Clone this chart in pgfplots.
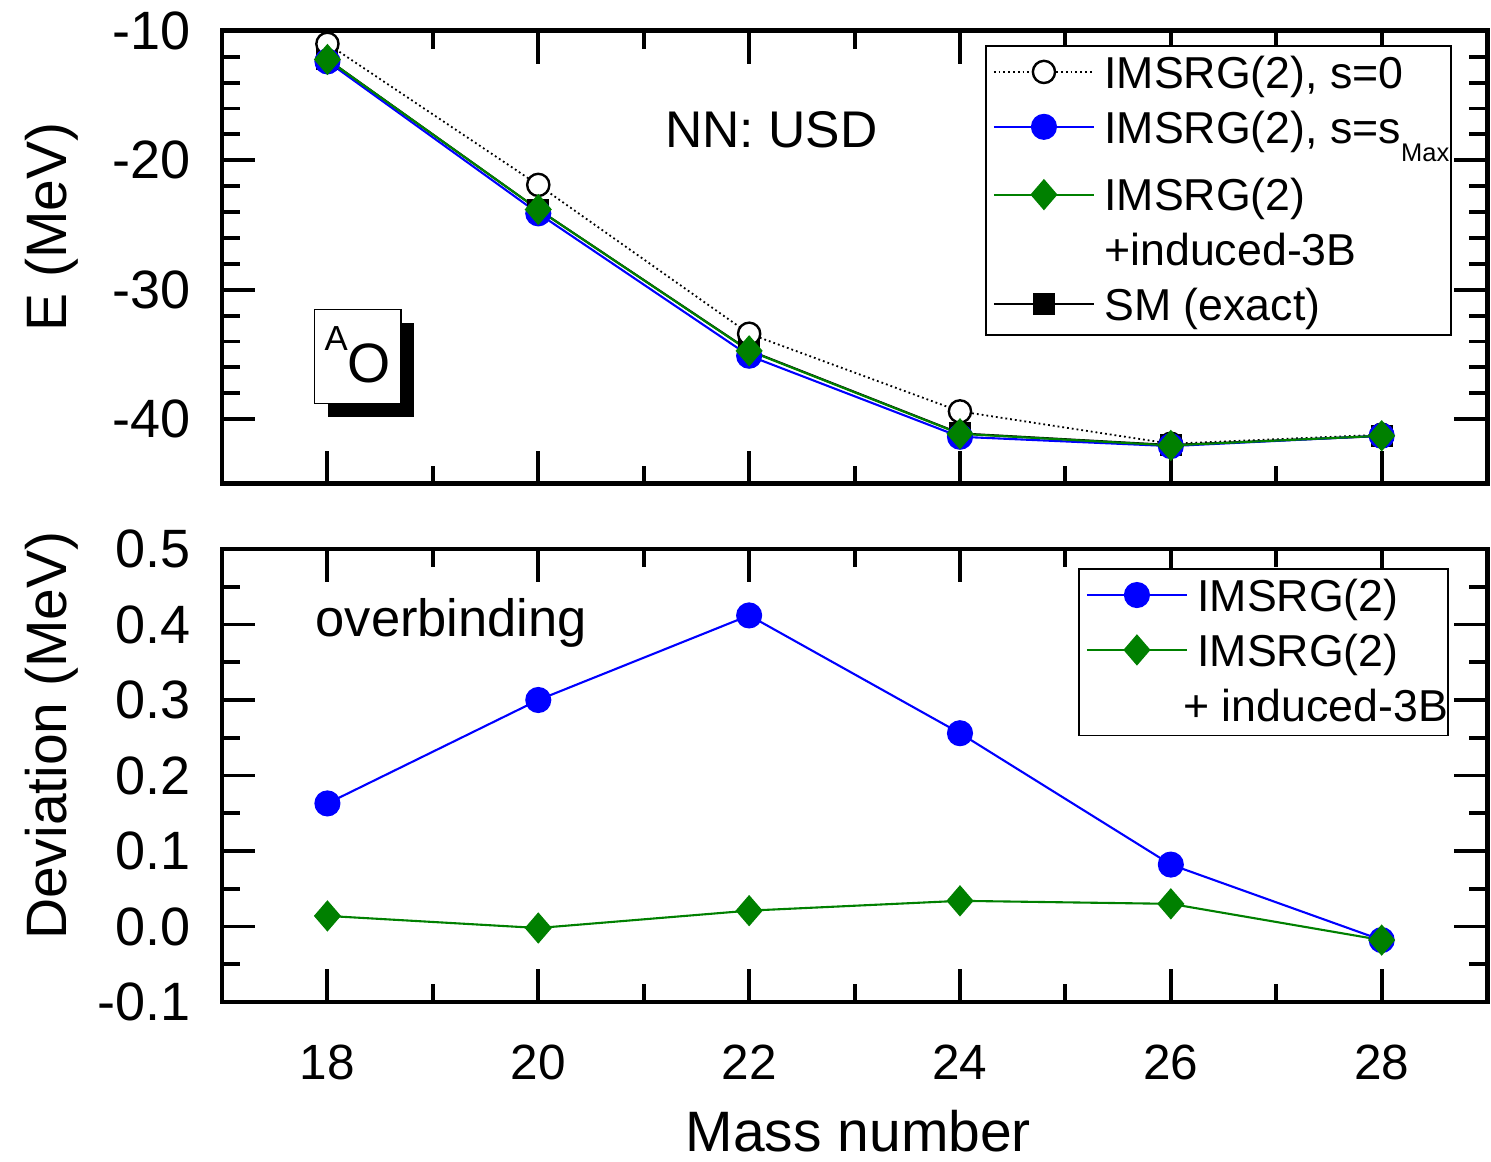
\documentclass[border=0pt]{standalone}
\usepackage{fontspec}
\setmainfont{Liberation Sans}
\usepackage{pgfplots}
\pgfplotsset{compat=1.18}
\definecolor{dgreen}{RGB}{0,128,0}
\newcommand\lstrut{\rule[-3.2pt]{0pt}{14pt}}
\pgfplotsset{
  myaxis/.style={
    scale only axis, width=421.7pt, height=151pt,
    xmin=17, xmax=29, xtick={18,20,...,28}, minor x tick num=1,
    tick align=inside, major tick length=11pt, minor tick length=6pt,
    axis line style={line width=1.6pt},
    tick style={line width=1.3pt, black},
    xtick pos=both, ytick pos=both,
    clip=false,
    /pgf/number format/assume math mode=true,
    yticklabel style={font=\fontsize{18}{20}\selectfont, xshift=-6.8pt},
    xticklabel style={font=\fontsize{16.5}{19}\selectfont, yshift=-10.8pt},
    legend image code/.code={%
      \draw[yshift=5.4pt,mark repeat=2,mark phase=2,##1] plot coordinates {(0pt,0pt) (16.7pt,0pt) (33.3pt,0pt)};
      \path (0pt,0pt) (36pt,0pt);},
    legend style={draw=black, line width=0.6pt, fill=white,
      font=\fontsize{14.9}{17}\selectfont,
      cells={anchor=base west}, inner sep=2.3pt,
      nodes={inner xsep=0.5pt, inner ysep=1pt}, row sep=4pt},
  },
  s0/.style={black, densely dotted, line width=0.6pt, mark=*, mark size=3.7pt,
    mark options={solid, fill=white, draw=black, line width=0.8pt}},
  bl/.style={blue, line width=0.7pt, mark=*, mark size=4pt,
    mark options={solid, fill=blue, draw=blue}},
  gr/.style={dgreen, line width=0.7pt, mark=diamond*, mark size=4.7pt,
    mark options={solid, fill=dgreen, draw=dgreen, xscale=1.15}},
  sm/.style={black, line width=0.7pt, mark=square*, mark size=3.3pt,
    mark options={solid, fill=black}},
}
\begin{document}
\begin{tikzpicture}
\path[use as bounding box] (-74pt,-53.3pt) rectangle (423pt,334pt);
% ---------------- top panel ----------------
\begin{axis}[myaxis, at={(0pt,172.7pt)}, anchor=south west,
  ymin=-45, ymax=-10, ytick={-10,-20,-30,-40}, minor y tick num=4,
  xticklabels={},
  ylabel={E (MeV)},
  ylabel style={at={(axis description cs:-0.1344,0.567)}, anchor=center, font=\fontsize{19}{22}\selectfont},
  legend style={at={(rel axis cs:0.9723,0.969)}, anchor=north east},
]
\addplot[sm, forget plot] coordinates {(18,-12.2) (20,-23.8) (22,-34.69) (24,-41.1) (26,-42.0) (28,-41.3)};
\addplot[s0, forget plot] coordinates {(18,-11.0) (20,-21.9) (22,-33.4) (24,-39.4) (26,-41.9) (28,-41.2)};
\addplot[bl, forget plot] coordinates {(18,-12.36) (20,-24.1) (22,-35.1) (24,-41.36) (26,-42.08) (28,-41.28)};
\addplot[gr, forget plot] coordinates {(18,-12.21) (20,-23.8) (22,-34.72) (24,-41.13) (26,-42.03) (28,-41.28)};
\addlegendimage{s0}\addlegendentry{\lstrut IMSRG(2), s=0}
\addlegendimage{bl}\addlegendentry{\rule[-11pt]{0pt}{21.8pt}IMSRG(2), s=s\raisebox{-6pt}{\fontsize{8.5}{10}\selectfont Max}\hspace*{-2.2pt}}
\addlegendimage{gr}\addlegendentry{\rule[-3.2pt]{0pt}{18.3pt}IMSRG(2)}
\addlegendimage{empty legend}\addlegendentry{\lstrut +induced-3B}
\addlegendimage{sm}\addlegendentry{\lstrut SM (exact)}
\node[anchor=base west, font=\fontsize{17.2}{20}\selectfont, inner sep=0pt] at (rel axis cs:0.350,0.742) {NN: USD};
\node[anchor=north west, fill=black, minimum width=28.7pt, minimum height=31.3pt, inner sep=0pt]
  at ([xshift=4.5pt,yshift=-4.5pt]rel axis cs:0.0727,0.3863) {};
\node[anchor=north west, draw=black, fill=white, line width=0.5pt, minimum width=28.7pt,
  inner xsep=0pt, inner ysep=0pt, text height=24.3pt, text depth=7pt]
  at (rel axis cs:0.0727,0.3863) {\raisebox{10.7pt}{\fontsize{11.6}{13}\selectfont A}{\fontsize{18.5}{21}\selectfont O}};
\end{axis}
% ---------------- bottom panel ----------------
\begin{axis}[myaxis, at={(0pt,0pt)}, anchor=south west,
  ymin=-0.1, ymax=0.5, ytick={-0.1,0,0.1,0.2,0.3,0.4,0.5}, minor y tick num=1,
  yticklabel style={/pgf/number format/.cd, fixed, fixed zerofill, precision=1},
  xlabel={Mass number},
  xlabel style={at={(axis description cs:0.503,-0.285)}, anchor=center, font=\fontsize{19}{22}\selectfont},
  ylabel={Deviation (MeV)},
  ylabel style={at={(axis description cs:-0.1344,0.588)}, anchor=center, font=\fontsize{19}{22}\selectfont},
  legend style={at={(rel axis cs:0.970,0.958)}, anchor=north east},
]
\addplot[bl, forget plot] coordinates {(18,0.163) (20,0.300) (22,0.412) (24,0.256) (26,0.082) (28,-0.018)};
\addplot[gr, forget plot] coordinates {(18,0.014) (20,-0.002) (22,0.021) (24,0.034) (26,0.030) (28,-0.018)};
\addlegendimage{bl}\addlegendentry{\lstrut IMSRG(2)}
\addlegendimage{gr}\addlegendentry{\lstrut IMSRG(2)}
\addlegendimage{empty legend}\addlegendentry{\rule{0pt}{10.8pt}\hspace*{-4.7pt}+ induced-3B\hspace*{-2.7pt}}
\node[anchor=base west, font=\fontsize{17.5}{20}\selectfont, inner sep=0pt] at (rel axis cs:0.0735,0.806) {overbinding};
\end{axis}
\end{tikzpicture}
\end{document}
